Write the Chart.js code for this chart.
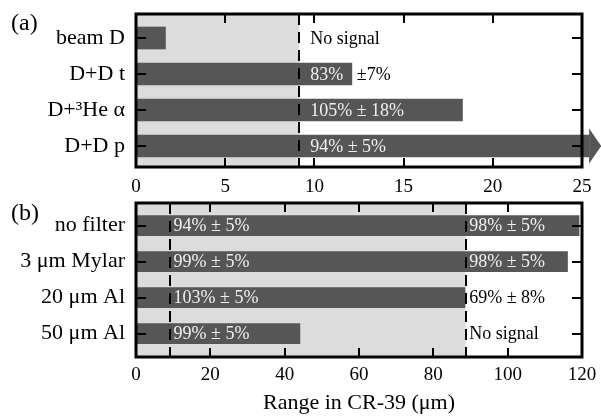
<!DOCTYPE html>
<html>
<head>
<meta charset="utf-8">
<script src="https://cdn.jsdelivr.net/npm/chart.js@4"></script>
<style>
  html, body { margin: 0; padding: 0; background: #fff; }
  #wrap { position: relative; width: 601px; height: 417px; overflow: hidden; }
  canvas { position: absolute; left: 0; }
  #chartA { top: 0; }
  #chartB { top: 196px; }
</style>
</head>
<body>
<div id="wrap">
  <canvas id="chartA" width="601" height="196"></canvas>
  <canvas id="chartB" width="601" height="221"></canvas>
</div>
<script>
// panel (a): particle species
var particles = ['beam D', 'D+D t', 'D+\u00B3He \u03B1', 'D+D p'];
var particleRange = [1.65, 12.1, 18.3, 25.4];
var particleNotes = ['No signal', '83%', '105% \u00B1 18%', '94% \u00B1 5%'];
var particleNotesAfter = ['', '\u00B17%', '', ''];
var particleCut = 9.15;
var particleTicks = [0, 5, 10, 15, 20, 25];

// panel (b): filters
var filters = ['no filter', '3 \u03BCm Mylar', '20 \u03BCm Al', '50 \u03BCm Al'];
var filterRange = [119.2, 116.1, 88.5, 44.1];
var filterNotesLow = ['94% \u00B1 5%', '99% \u00B1 5%', '103% \u00B1 5%', '99% \u00B1 5%'];
var filterNotesHigh = ['98% \u00B1 5%', '98% \u00B1 5%', '69% \u00B1 8%', 'No signal'];
var filterCutLow = 9.15;
var filterCutHigh = 88.7;
var filterTicks = [0, 20, 40, 60, 80, 100, 120];

var SERIF = "'Liberation Serif', 'Times New Roman', serif";
var BAR = '#565656';
var SHADE = '#dcdcdc';
var LIGHT_TEXT = '#f0f0f0';

var panelPlugin = {
    id: 'panel',
    beforeDatasetsDraw: function (chart, args, opts) {
        var ctx = chart.ctx, a = chart.chartArea, x = chart.scales.x;
        ctx.save();
        ctx.fillStyle = SHADE;
        var x0 = x.getPixelForValue(0), x1 = x.getPixelForValue(opts.shadeTo);
        ctx.fillRect(x0, a.top, x1 - x0, a.bottom - a.top);
        ctx.restore();
    },
    afterDatasetsDraw: function (chart, args, opts) {
        var ctx = chart.ctx, a = chart.chartArea, x = chart.scales.x, y = chart.scales.y;
        var bars = chart.getDatasetMeta(0).data;
        ctx.save();

        // arrow head on the off-scale bar
        if (opts.arrowIndex != null) {
            var p = bars[opts.arrowIndex].getProps(['x', 'y', 'height'], true);
            ctx.fillStyle = BAR;
            ctx.beginPath();
            ctx.moveTo(p.x, p.y - 17.5);
            ctx.lineTo(p.x + 12, p.y);
            ctx.lineTo(p.x, p.y + 17.5);
            ctx.closePath();
            ctx.fill();
        }

        // dashed threshold lines
        ctx.strokeStyle = '#000';
        ctx.lineWidth = 2;
        ctx.setLineDash([11, 7]);
        opts.cuts.forEach(function (c) {
            var px = Math.round(x.getPixelForValue(c));
            ctx.beginPath();
            ctx.moveTo(px, a.top);
            ctx.lineTo(px, a.bottom);
            ctx.stroke();
        });
        ctx.setLineDash([]);

        // percentage notes
        ctx.font = '18px ' + SERIF;
        ctx.textBaseline = 'middle';
        ctx.textAlign = 'left';
        opts.notes.forEach(function (set) {
            set.texts.forEach(function (t, i) {
                if (!t) return;
                var end = bars[i].getProps(['x'], true).x;
                var tx = set.after ? end + 5 : x.getPixelForValue(set.at) + opts.gap;
                ctx.fillStyle = tx < end ? LIGHT_TEXT : '#000';
                ctx.fillText(t, tx, y.getPixelForValue(i) + 1);
            });
        });

        // frame
        ctx.strokeStyle = '#000';
        ctx.lineWidth = 3;
        ctx.strokeRect(a.left, a.top, a.right - a.left, a.bottom - a.top);

        // inward tick marks
        ctx.lineWidth = 2;
        x.ticks.forEach(function (t) {
            var px = Math.round(x.getPixelForValue(t.value));
            if (px <= a.left + 2 || px >= a.right - 2) return;
            ctx.beginPath();
            ctx.moveTo(px, a.top); ctx.lineTo(px, a.top + 9);
            ctx.moveTo(px, a.bottom); ctx.lineTo(px, a.bottom - 9);
            ctx.stroke();
        });
        y.ticks.forEach(function (t) {
            var py = Math.round(y.getPixelForValue(t.value));
            ctx.beginPath();
            ctx.moveTo(a.left, py); ctx.lineTo(a.left + 10, py);
            ctx.moveTo(a.right, py); ctx.lineTo(a.right - 10, py);
            ctx.stroke();
        });

        // panel letter
        ctx.fillStyle = '#000';
        ctx.font = '24px ' + SERIF;
        ctx.textBaseline = 'middle';
        ctx.fillText(opts.letter, opts.letterPos[0], opts.letterPos[1]);
        ctx.restore();
    }
};

function noPad(s) {
    s.paddingTop = 0; s.paddingBottom = 0; s.paddingLeft = 0; s.paddingRight = 0;
}

function makeChart(id, labels, values, ticks, axisHeight, pad, panel, title) {
    return new Chart(document.getElementById(id), {
        type: 'bar',
        data: {
            datasets: [{
                data: values.map(function (v, i) { return { x: v, y: i }; }),
                backgroundColor: BAR,
                borderWidth: 0,
                barThickness: panel.barPx,
                clip: false
            }]
        },
        options: {
            indexAxis: 'y',
            responsive: false,
            animation: false,
            events: [],
            layout: { padding: pad },
            plugins: { legend: { display: false }, tooltip: { enabled: false }, panel: panel },
            scales: {
                x: {
                    type: 'linear',
                    min: ticks[0],
                    max: ticks[ticks.length - 1],
                    afterBuildTicks: function (s) { s.ticks = ticks.map(function (v) { return { value: v }; }); },
                    afterFit: function (s) { s.height = axisHeight; noPad(s); },
                    grid: { display: false, drawTicks: false },
                    border: { display: false },
                    ticks: { font: { family: SERIF, size: 19 }, color: '#000', padding: panel.tickPad, maxRotation: 0 },
                    title: title ? {
                        display: true, text: title, color: '#000',
                        font: { family: SERIF, size: 22, lineHeight: 0.85 },
                        padding: { top: 0, bottom: 4 }
                    } : { display: false }
                },
                y: {
                    type: 'linear',
                    reverse: true,
                    offset: false,
                    min: panel.yMin,
                    max: panel.yMax,
                    afterBuildTicks: function (s) { s.ticks = labels.map(function (l, i) { return { value: i }; }); },
                    afterFit: function (s) { s.width = 136; noPad(s); },
                    grid: { display: false, drawTicks: false },
                    border: { display: false },
                    ticks: {
                        autoSkip: false,
                        font: { family: SERIF, size: 22 },
                        color: '#000',
                        padding: 11,
                        callback: function (v) { return labels[v]; }
                    }
                }
            }
        },
        plugins: [panelPlugin]
    });
}

window.onload = function () {
    makeChart('chartA', particles, particleRange, particleTicks, 29,
        { top: 14, right: 19, left: 0, bottom: 0 },
        {
            shadeTo: particleCut, cuts: [particleCut], gap: 11, arrowIndex: 3,
            notes: [{ texts: particleNotes, at: particleCut }, { texts: particleNotesAfter, after: true }],
            letter: '(a)', letterPos: [11, 24], barPx: 22, yMin: -0.667, yMax: 3.583, tickPad: 9
        });
    makeChart('chartB', filters, filterRange, filterTicks, 60,
        { top: 7, right: 19, left: 0, bottom: 0 },
        {
            shadeTo: filterCutHigh, cuts: [filterCutLow, filterCutHigh], gap: 3.5, arrowIndex: null,
            notes: [{ texts: filterNotesLow, at: filterCutLow }, { texts: filterNotesHigh, at: filterCutHigh }],
            letter: '(b)', letterPos: [11, 18], barPx: 20, yMin: -0.63, yMax: 3.65, tickPad: 7
        },
        'Range in CR-39 (\u03BCm)');
};
</script>
</body>
</html>
